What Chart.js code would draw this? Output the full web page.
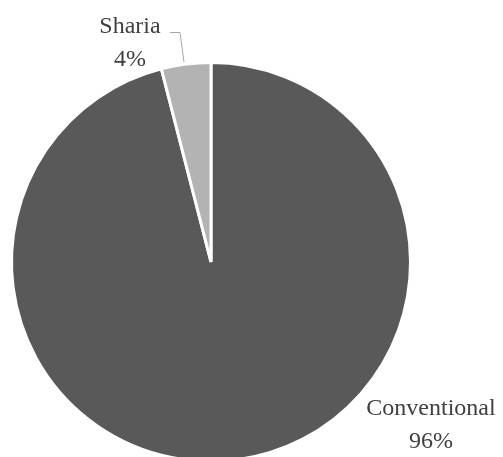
<!DOCTYPE html>
<html>
<head>
<meta charset="utf-8">
<script src="https://cdn.jsdelivr.net/npm/chart.js@4/dist/chart.umd.min.js"></script>
<style>
    html, body { margin: 0; padding: 0; background: #fff; overflow: hidden; }
    #wrap { width: 503px; height: 470px; position: relative; }
</style>
</head>
<body>
<div id="wrap"><canvas id="pieChart"></canvas></div>
<script>
// Chart data
const categories = ['Conventional', 'Sharia'];
const shares = [96, 4];
const sliceColors = ['#595959', '#b3b3b3'];

// Where each label sits (text centre x, first baseline y)
const labelSpots = [
    { x: 431, y: 415 },
    { x: 130, y: 33 }
];

// Draws the category/percent labels and the Sharia leader line
const pieLabels = {
    id: 'pieLabels',
    afterDraw(chart) {
        const ctx = chart.ctx;
        ctx.save();

        // leader line for the small slice
        ctx.strokeStyle = '#a6a6a6';
        ctx.lineWidth = 1;
        ctx.beginPath();
        ctx.moveTo(170, 32.5);
        ctx.lineTo(180, 32.5);
        ctx.lineTo(184, 62);
        ctx.stroke();

        ctx.fillStyle = '#404040';
        ctx.font = '24px "Liberation Serif", "Times New Roman", serif';
        ctx.textAlign = 'center';
        ctx.textBaseline = 'alphabetic';
        categories.forEach((name, i) => {
            const spot = labelSpots[i];
            ctx.fillText(name, spot.x, spot.y);
            ctx.fillText(shares[i] + '%', spot.x, spot.y + 33);
        });
        ctx.restore();
    }
};

const pieChart = new Chart(document.getElementById('pieChart').getContext('2d'), {
    type: 'pie',
    data: {
        labels: categories,
        datasets: [{
            data: shares,
            backgroundColor: sliceColors,
            borderColor: '#ffffff',
            borderWidth: 3
        }]
    },
    options: {
        responsive: true,
        maintainAspectRatio: false,
        animation: false,
        layout: {
            padding: { left: 10, right: 91, top: 61, bottom: 7 }
        },
        plugins: {
            legend: { display: false },
            tooltip: { enabled: false }
        }
    },
    plugins: [pieLabels]
});
</script>
</body>
</html>
